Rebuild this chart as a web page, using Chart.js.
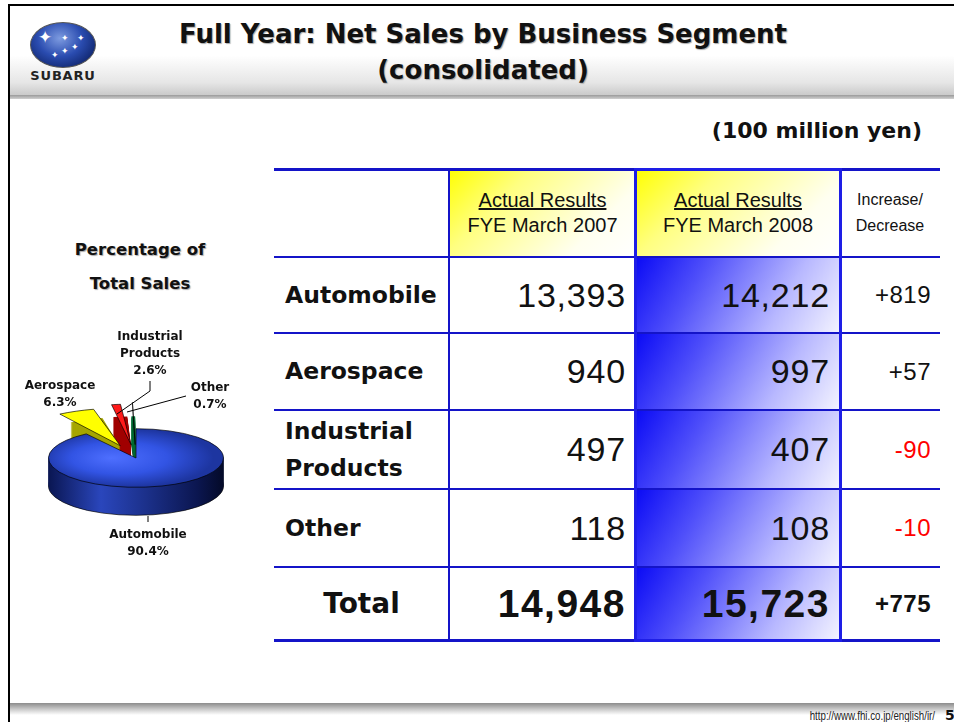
<!DOCTYPE html>
<html>
<head>
<meta charset="utf-8">
<script src="https://cdn.jsdelivr.net/npm/chart.js@4.4.0/dist/chart.umd.min.js"></script>
<style>
  body { margin:0; width:954px; height:722px; overflow:hidden; background:#fff; position:relative; font-family:"DejaVu Sans", Verdana, sans-serif; }
  .abs { position:absolute; }
  .narrow { font-family:"Liberation Sans Narrow", "Liberation Sans", Arial, sans-serif; }
  .lbl { position:absolute; font-weight:bold; font-size:12px; line-height:17px; text-align:center; color:#111; z-index:3; }
  .cell { position:absolute; display:flex; align-items:center; box-sizing:border-box; }
</style>
</head>
<body>

<!-- slide frame + header band -->
<div class="abs" style="left:10px;top:6px;width:944px;height:90px;background:linear-gradient(to bottom,#fff 0%,#fff 55%,#e6e6e6 85%,#c8c8c8 100%);"></div>
<div class="abs" style="left:10px;top:95px;width:944px;height:4px;background:linear-gradient(to bottom,#9a9a9a,#d0d0d0);"></div>
<div class="abs" style="left:8px;top:4px;width:946px;height:2px;background:#000;"></div>
<div class="abs" style="left:8px;top:4px;width:2px;height:718px;background:#000;"></div>
<div class="abs" style="left:10px;top:703px;width:944px;height:12px;background:linear-gradient(to bottom,#8c8c8c,#c8c8c8 50%,#fff);"></div>

<!-- logo -->
<div class="abs" style="left:30px;top:22px;width:64px;height:44px;border-radius:50%;background:radial-gradient(ellipse at 45% 35%,#7d9be0 0%,#2a4cb0 45%,#10266e 80%,#06123a 100%);border:1px solid #555;"></div>
<div class="abs" style="left:30px;top:22px;width:64px;height:44px;color:#fff;font-size:9px;line-height:9px;">
  <span class="abs" style="left:8px;top:11px;font-size:17px;">&#10022;</span>
  <span class="abs" style="left:31px;top:12px;">&#10022;</span>
  <span class="abs" style="left:41px;top:21px;">&#10022;</span>
  <span class="abs" style="left:31px;top:25px;">&#10022;</span>
  <span class="abs" style="left:47px;top:12px;">&#10022;</span>
  <span class="abs" style="left:21px;top:29px;">&#10022;</span>
</div>
<div class="abs" style="left:26px;top:68px;width:74px;text-align:center;font-weight:bold;font-size:13px;letter-spacing:0.8px;color:#222;">SUBARU</div>

<!-- title -->
<div class="abs" style="left:100px;top:16px;width:766px;text-align:center;font-weight:bold;font-size:26px;line-height:36px;color:#111;text-shadow:1px 1px 1px #aaa;">
  Full Year: Net Sales by Business Segment<br>(consolidated)
</div>
<div class="abs" style="left:560px;top:118px;width:362px;text-align:right;font-weight:bold;font-size:22px;color:#111;">(100 million yen)</div>

<!-- pie section -->
<div class="abs" style="left:20px;top:233px;width:240px;text-align:center;font-weight:bold;font-size:16.5px;line-height:34px;color:#111;text-shadow:1px 1px 1px #aaa;">Percentage of<br>Total Sales</div>
<div id="pieBox" class="abs" style="left:-32px;top:290px;width:336px;height:336px;z-index:1;"><canvas id="pieChart"></canvas></div>
<svg class="abs" style="left:0;top:0;z-index:2;" width="260" height="600">
  <polyline points="150,381 150,391 117,414" fill="none" stroke="#000" stroke-width="1"/>
  <polyline points="186,396 127,412" fill="none" stroke="#000" stroke-width="1"/>
  <polyline points="148,516 148,522" fill="none" stroke="#000" stroke-width="1"/>
</svg>
<div id="pieLabels"></div>

<!-- table -->
<div id="table"></div>

<!-- footer text -->
<div class="abs narrow" style="left:740px;top:708px;width:195px;text-align:right;font-size:13.5px;color:#222;transform:scaleX(0.72);transform-origin:right center;">http://www.fhi.co.jp/english/ir/</div>
<div class="abs" style="left:945px;top:707px;font-weight:bold;font-size:14px;color:#111;">5</div>

<script>
// ---- data ----
const segments = ['Automobile', 'Aerospace', 'Industrial Products', 'Other'];
const rowLabels = ['Automobile', 'Aerospace', 'Industrial<br>Products', 'Other'];
const fy2007 = [13393, 940, 497, 118];
const fy2008 = [14212, 997, 407, 108];
const changes = ['+819', '+57', '-90', '-10'];
const totalLabel = 'Total';
const totals = [14948, 15723];
const totalChange = '+775';
const shareLabels = ['90.4%', '6.3%', '2.6%', '0.7%'];
const colHeaders = ['Actual Results', 'Actual Results', 'Increase/'];
const colSubHeaders = ['FYE March 2007', 'FYE March 2008', 'Decrease'];

// ---- table layout ----
const colX = [274, 449, 636, 840, 940];
const rowY = [169, 257, 333, 410, 489, 567, 640];
const tbl = document.getElementById('table');
function add(html, style, cls) {
  const d = document.createElement('div');
  d.className = cls || 'cell';
  d.style.cssText = style;
  d.innerHTML = html;
  tbl.appendChild(d);
  return d;
}
const fmt = v => v.toLocaleString('en-US');
const yellowBg = 'linear-gradient(135deg,#ffff00 0%,#ffff80 30%,#fffff0 75%,#fff 100%)';
const blueBg = 'linear-gradient(120deg,#0a0af5 0%,#5050fa 30%,#b8b8ff 70%,#f4f4ff 100%)';

// header cells
for (let c = 0; c < 3; c++) {
  const x0 = colX[c + 1], x1 = colX[c + 2];
  const bg = c < 2 ? 'background:' + yellowBg + ';' : '';
  const fs = c < 2 ? 20 : 16;
  add('<div style="width:100%;text-align:center;line-height:' + (c < 2 ? 25 : 26) + 'px;">' +
      (c < 2 ? '<u>' + colHeaders[c] + '</u>' : colHeaders[c]) + '<br>' + colSubHeaders[c] + '</div>',
      'left:' + x0 + 'px;top:' + rowY[0] + 'px;width:' + (x1 - x0) + 'px;height:' + (rowY[1] - rowY[0]) +
      'px;' + bg + 'font-size:' + fs + 'px;color:#111;', 'cell narrow');
}

// data rows
for (let r = 0; r < segments.length; r++) {
  const y0 = rowY[r + 1], h = rowY[r + 2] - rowY[r + 1];
  add('<div style="line-height:37px;">' + rowLabels[r] + '</div>',
      'left:' + (colX[0] + 11) + 'px;top:' + y0 + 'px;width:170px;height:' + h + 'px;font-weight:bold;font-size:23.5px;color:#111;');
  add(fmt(fy2007[r]), 'left:' + colX[1] + 'px;top:' + y0 + 'px;width:' + (colX[2] - colX[1]) + 'px;height:' + h +
      'px;justify-content:flex-end;padding-right:10px;font-size:34px;letter-spacing:0.8px;color:#111;', 'cell narrow');
  add(fmt(fy2008[r]), 'left:' + colX[2] + 'px;top:' + y0 + 'px;width:' + (colX[3] - colX[2]) + 'px;height:' + h +
      'px;justify-content:flex-end;padding-right:10px;background:' + blueBg + ';font-size:34px;letter-spacing:0.8px;color:#111;', 'cell narrow');
  add(changes[r], 'left:' + colX[3] + 'px;top:' + y0 + 'px;width:' + (colX[4] - colX[3]) + 'px;height:' + h +
      'px;justify-content:flex-end;padding-right:9px;font-size:24px;letter-spacing:0.5px;color:' +
      (changes[r].charAt(0) === '-' ? '#ff0000' : '#111') + ';', 'cell narrow');
}
// total row
{
  const y0 = rowY[5], h = rowY[6] - rowY[5];
  add(totalLabel, 'left:' + colX[0] + 'px;top:' + y0 + 'px;width:' + (colX[1] - colX[0]) + 'px;height:' + h +
      'px;justify-content:center;font-weight:bold;font-size:28px;color:#111;');
  add(fmt(totals[0]), 'left:' + colX[1] + 'px;top:' + y0 + 'px;width:' + (colX[2] - colX[1]) + 'px;height:' + h +
      'px;justify-content:flex-end;padding-right:10px;font-weight:bold;font-size:39px;letter-spacing:1.5px;color:#111;', 'cell narrow');
  add(fmt(totals[1]), 'left:' + colX[2] + 'px;top:' + y0 + 'px;width:' + (colX[3] - colX[2]) + 'px;height:' + h +
      'px;justify-content:flex-end;padding-right:10px;background:' + blueBg + ';font-weight:bold;font-size:39px;letter-spacing:1.5px;color:#111;', 'cell narrow');
  add(totalChange, 'left:' + colX[3] + 'px;top:' + y0 + 'px;width:' + (colX[4] - colX[3]) + 'px;height:' + h +
      'px;justify-content:flex-end;padding-right:9px;font-weight:bold;font-size:24px;letter-spacing:0.5px;color:#111;', 'cell narrow');
}
// grid lines
rowY.forEach((y, i) => {
  const t = (i === 0 || i === rowY.length - 1) ? 3 : 1.5;
  add('', 'left:' + colX[0] + 'px;top:' + (y - t / 2) + 'px;width:' + (colX[4] - colX[0]) + 'px;height:' + t + 'px;background:#1414c8;');
});
add('', 'left:' + (colX[1] - 1) + 'px;top:' + rowY[0] + 'px;width:1.5px;height:' + (rowY[6] - rowY[0]) + 'px;background:#1414c8;');
add('', 'left:' + (colX[2] - 2) + 'px;top:' + (rowY[0] - 1) + 'px;width:' + (colX[3] - colX[2] + 4) + 'px;height:' +
    (rowY[6] - rowY[0] + 3) + 'px;border:3px solid #1e1ee6;box-sizing:border-box;');

// ---- pie labels ----
const pl = document.getElementById('pieLabels');
function lbl(html, x, y, w) {
  const d = document.createElement('div');
  d.className = 'lbl';
  d.style.left = (x - w / 2) + 'px';
  d.style.top = y + 'px';
  d.style.width = w + 'px';
  d.innerHTML = html;
  pl.appendChild(d);
}
lbl('Industrial<br>Products<br>' + shareLabels[2], 150, 328, 100);
lbl(segments[1] + '<br>' + shareLabels[1], 60, 377, 90);
lbl(segments[3] + '<br>' + shareLabels[3], 210, 379, 60);
lbl(segments[0] + '<br>' + shareLabels[0], 148, 526, 110);

// ---- 3D pie ----
const SQUASH = 0.335;
const DEPTH = 28;
const topColors = ['#2c4fe0', '#ffff00', '#ff1a1a', '#00a651'];
const sideColors = ['#14246e', '#a6a600', '#a00000', '#006b33'];
const OFFSET = 160;

function blueTop(c) {
  const area = c.chart.chartArea;
  if (!area) return topColors[0];
  const cx = (area.left + area.right) / 2, cy = (area.top + area.bottom) / 2;
  const r = (Math.min(area.right - area.left, area.bottom - area.top) - OFFSET - 1) / 2;
  const g = c.chart.ctx.createRadialGradient(cx - 25, cy, 0, cx - 10, cy, r);
  g.addColorStop(0, '#4e6fff');
  g.addColorStop(0.55, '#3254e4');
  g.addColorStop(1, '#1d35a0');
  return g;
}

const pie3d = {
  id: 'pie3d',
  beforeDatasetsDraw(chart) {
    const ctx = chart.ctx;
    const meta = chart.getDatasetMeta(0);
    const a0 = meta.data[0];
    const cx = a0.x, cy = a0.y, R = a0.outerRadius;
    ctx.save();
    ctx.translate(cx, cy);
    ctx.scale(1, SQUASH);
    ctx.translate(-cx, -cy);
    const sg = ctx.createLinearGradient(cx - R, 0, cx + R, 0);
    sg.addColorStop(0, '#0a1652');
    sg.addColorStop(0.3, '#2a46bc');
    sg.addColorStop(0.55, '#1c318c');
    sg.addColorStop(0.85, '#0b1650');
    sg.addColorStop(1, '#040a28');
    for (let d = DEPTH; d >= 1; d--) {
      meta.data.forEach((arc, i) => {
        const off = (arc.options.offset || 0) / 4;
        const mid = (arc.startAngle + arc.endAngle) / 2;
        const x = arc.x + Math.cos(mid) * off;
        const y = arc.y + Math.sin(mid) * off + d / SQUASH;
        ctx.beginPath();
        ctx.moveTo(x, y);
        ctx.arc(x, y, arc.outerRadius, arc.startAngle, arc.endAngle);
        ctx.closePath();
        ctx.fillStyle = i === 0 ? sg : sideColors[i];
        ctx.fill();
        if (d === DEPTH) {
          ctx.strokeStyle = '#000';
          ctx.lineWidth = 1;
          ctx.stroke();
        }
      });
    }
  },
  afterDatasetsDraw(chart) {
    chart.ctx.restore();
  }
};

new Chart(document.getElementById('pieChart').getContext('2d'), {
  type: 'pie',
  data: {
    labels: segments,
    datasets: [{
      data: fy2008,
      backgroundColor: c => c.dataIndex === 0 ? blueTop(c) : topColors[c.dataIndex],
      borderColor: '#000',
      borderWidth: 1,
      offset: [0, OFFSET, OFFSET, OFFSET],
      clip: false
    }]
  },
  options: {
    responsive: true,
    maintainAspectRatio: false,
    animation: false,
    events: [],
    layout: { padding: 0 },
    plugins: {
      legend: { display: false },
      tooltip: { enabled: false }
    }
  },
  plugins: [pie3d]
});
</script>
</body>
</html>
